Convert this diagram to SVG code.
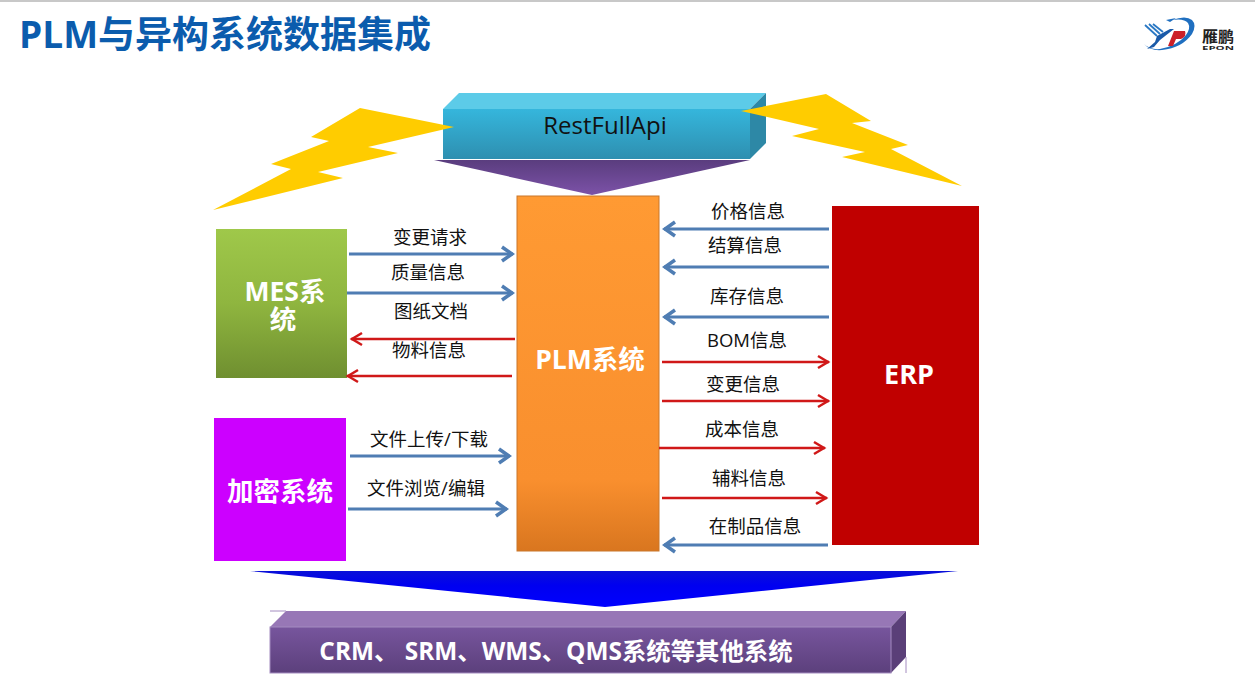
<svg xmlns="http://www.w3.org/2000/svg" width="1255" height="694" viewBox="0 0 1255 694">
<style>
text{font-family:"Open Sans","Noto Sans CJK SC",sans-serif}
.l{font-size:18.500px;fill:#111;text-anchor:middle}
.n{font-weight:700;fill:#fff;text-anchor:middle}
.b{stroke:#4f7db3;stroke-width:3;fill:none;marker-end:url(#mb)}
.r{stroke:#d01818;stroke-width:2.500;fill:none;marker-end:url(#mr)}
.bolt{fill:#ffcc00}
</style>
<defs>
<marker id="mb" markerUnits="userSpaceOnUse" markerWidth="16" markerHeight="18" refX="14" refY="9" orient="auto"><path d="M3 2L13 9L3 16" fill="none" stroke="#4f7db3" stroke-width="3.500"/></marker>
<marker id="mr" markerUnits="userSpaceOnUse" markerWidth="16" markerHeight="16" refX="14" refY="8" orient="auto"><path d="M3 2L13 8L3 14" fill="none" stroke="#d01818" stroke-width="2.500"/></marker>
<linearGradient id="gApi" x1="0" y1="0" x2="0" y2="1"><stop offset="0" stop-color="#35b6dc"/><stop offset="1" stop-color="#2e8fb0"/></linearGradient>
<linearGradient id="gTri" x1="0" y1="0" x2="0" y2="1"><stop offset="0" stop-color="#5a3d7e"/><stop offset="1" stop-color="#7c52a8"/></linearGradient>
<linearGradient id="gPlm" x1="0" y1="0" x2="0" y2="1"><stop offset="0" stop-color="#ff9a33"/><stop offset=".8" stop-color="#f98f2e"/><stop offset="1" stop-color="#d9761f"/></linearGradient>
<linearGradient id="gMes" x1="0" y1="0" x2="0" y2="1"><stop offset="0" stop-color="#9fc84a"/><stop offset=".5" stop-color="#8fb53f"/><stop offset="1" stop-color="#6f8f30"/></linearGradient>
<linearGradient id="gBlue" x1="0" y1="0" x2="0" y2="1"><stop offset="0" stop-color="#0a10d8"/><stop offset=".4" stop-color="#0000f0"/><stop offset="1" stop-color="#0000ff"/></linearGradient>
<linearGradient id="gOth" x1="0" y1="0" x2="0" y2="1"><stop offset="0" stop-color="#77559d"/><stop offset="1" stop-color="#5c407c"/></linearGradient>
</defs>
<rect width="1255" height="694" fill="#fff"/>
<rect width="1255" height="2" fill="#c8c8c8"/>
<text id="title" x="19" y="48" font-size="37" font-weight="700" fill="#0b5cad">PLM与异构系统数据集成</text>
<g id="logo">
<path d="M1144 44Q1150 51 1162 50Q1182 48 1192 34Q1197 25 1192 20Q1186 15 1172 20Q1184 18 1188 23Q1191 28 1186 35Q1177 46 1160 49Q1150 50 1144 44Z" fill="#1f6fc0"/>
<path d="M1166 20L1176 18L1170 22Z" fill="#1f6fc0"/>
<path d="M1145 25L1157 36M1149 24L1160 34M1153 24L1163 32" stroke="#2a78c4" stroke-width="1.800" fill="none"/>
<path d="M1157 36L1170 29H1174L1160 40L1154 47L1147 49L1155 42Z" fill="#1a5aa8"/>
<path d="M1174 31H1185Q1187 36 1181 39H1176L1173 46H1168Z" fill="#cc2028"/>
<text x="1202" y="42" font-size="15" font-weight="700" fill="#222" textLength="32" lengthAdjust="spacingAndGlyphs">雁鹏</text>
<text x="1202" y="50" font-size="6" font-weight="700" fill="#222" textLength="32" lengthAdjust="spacingAndGlyphs">EPON</text>
</g>
<g id="restfullapi">
<path d="M443 109L459 93H766L750 109Z" fill="#5ccbe8"/>
<path d="M750 109L766 93V143L750 159Z" fill="#2d88a6"/>
<rect x="443" y="109" width="307" height="50" fill="url(#gApi)"/>
<text x="605" y="134" font-size="24" fill="#111" text-anchor="middle">RestFullApi</text>
</g>
<path id="down-arrow-top" d="M434 160H750L592 195Z" fill="url(#gTri)"/>
<polygon id="bolt-left" class="bolt" points="454,127 360,108 311,137 329,141 271,164 291,169 213,210 343,178 318,172 398,153 368,147"/>
<polygon id="bolt-right" class="bolt" points="741,111 826,94 871,121 852,123 908,145 891,149 962,186 842,157 865,152 792,136 819,129"/>
<g id="mes">
<rect x="216" y="229" width="131" height="149" fill="url(#gMes)"/>
<text class="n" font-size="26.500"><tspan x="285" y="301">MES系</tspan><tspan x="283" y="329">统</tspan></text>
</g>
<g id="encrypt">
<rect x="214" y="418" width="132" height="143" fill="#cc00ff"/>
<text class="n" x="280" y="501" font-size="26.500">加密系统</text>
</g>
<g id="plm">
<rect x="517" y="196" width="142" height="355" fill="url(#gPlm)" stroke="#c9772b"/>
<text class="n" x="590" y="369" font-size="26.500">PLM系统</text>
</g>
<g id="erp">
<rect x="832" y="206" width="147" height="339" fill="#c00000"/>
<text class="n" x="909" y="384" font-size="27">ERP</text>
</g>
<g id="connectors">
<path class="b" d="M349 254H513"/>
<path class="b" d="M347 293H513"/>
<path class="r" d="M515 339H351"/>
<path class="r" d="M512 376H347"/>
<path class="b" d="M350 456H510"/>
<path class="b" d="M348 509H507"/>
<path class="b" d="M829 229H664"/>
<path class="b" d="M829 267H664"/>
<path class="b" d="M829 317H664"/>
<path class="r" d="M662 362H829"/>
<path class="r" d="M662 401H829"/>
<path class="r" d="M659 448H825"/>
<path class="r" d="M662 498H827"/>
<path class="b" d="M828 545H664"/>
</g>
<g id="labels">
<text class="l" x="430" y="244">变更请求</text>
<text class="l" x="428" y="279">质量信息</text>
<text class="l" x="431" y="318">图纸文档</text>
<text class="l" x="429" y="357">物料信息</text>
<text class="l" x="429" y="446">文件上传/下载</text>
<text class="l" x="426" y="495">文件浏览/编辑</text>
<text class="l" x="748" y="218">价格信息</text>
<text class="l" x="745" y="252">结算信息</text>
<text class="l" x="747" y="303">库存信息</text>
<text class="l" x="747" y="347">BOM信息</text>
<text class="l" x="743" y="391">变更信息</text>
<text class="l" x="742" y="436">成本信息</text>
<text class="l" x="749" y="485">辅料信息</text>
<text class="l" x="755" y="533">在制品信息</text>
</g>
<path id="down-arrow-bottom" d="M250 571H958L605 607Z" fill="url(#gBlue)"/>
<g id="others">
<path d="M270 627L286 611H906L891 627Z" fill="#9777b6"/>
<path d="M891 627L906 611V657L891 673Z" fill="#5a3f78"/>
<path d="M270 611H286M906 657V673" stroke="#a48cc0" fill="none"/>
<rect x="270" y="627" width="621" height="46" fill="url(#gOth)" stroke="#a48cc0"/>
<text class="n" x="556" y="660" font-size="24.400">CRM、 SRM、WMS、QMS系统等其他系统</text>
</g>
</svg>
